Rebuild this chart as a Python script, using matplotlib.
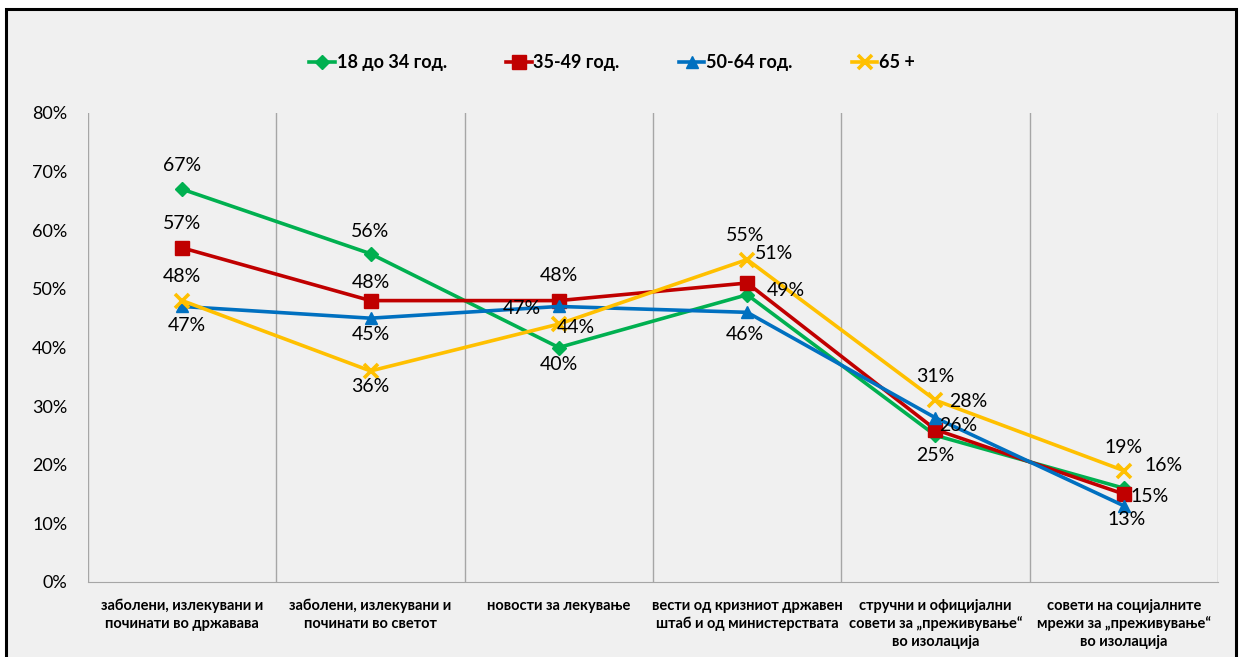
import matplotlib.pyplot as plt
from matplotlib.patches import Rectangle

# data
categories = [
    "заболени, излекувани и\nпочинати во државава",
    "заболени, излекувани и\nпочинати во светот",
    "новости за лекување",
    "вести од кризниот државен\nштаб и од министерствата",
    "стручни и официјални\nсовети за „преживување“\nво изолација",
    "совети на социјалните\nмрежи за „преживување“\nво изолација",
]
series_names = ["18 до 34 год.", "35-49 год.", "50-64 год.", "65 +"]
age_18_34 = [67, 56, 40, 49, 25, 16]
age_35_49 = [57, 48, 48, 51, 26, 15]
age_50_64 = [47, 45, 47, 46, 28, 13]
age_65 = [48, 36, 44, 55, 31, 19]
yticks = [0, 10, 20, 30, 40, 50, 60, 70, 80]

# styling
colors = ["#00B050", "#C00000", "#0070C0", "#FFC000"]
markers = ["D", "s", "^", "x"]
msizes = [7, 10, 9, 10]
# label offsets in pixels (dx, dy) per series, per category
offsets = [
    [(0, 24), (0, 22), (0, -17), (39, 4), (0, -20), (40, 23)],
    [(0, 24), (0, 18), (0, 25), (27, 30), (23, 4), (26, -2)],
    [(5, -19), (0, -16), (-37, -2), (-2, -22), (33, 16), (3, -14)],
    [(0, 24), (0, -16), (17, -3), (-2, 24), (0, 24), (0, 23)],
]

plt.rcParams['font.family'] = ['Lato', 'DejaVu Sans']

fig = plt.figure(figsize=(12.39, 6.57), dpi=100, facecolor="white")
fig.patches.append(Rectangle((6 / 1239, -0.05), 1230 / 1239, 1.05 - 9 / 657,
                             transform=fig.transFigure, facecolor="#F0F0F0",
                             edgecolor="black", linewidth=2.2, zorder=-10))

ax = fig.add_axes([88 / 1239, 1 - 582 / 657, 1130 / 1239, 469 / 657])
ax.set_facecolor("none")

x = list(range(len(categories)))
all_series = [age_18_34, age_35_49, age_50_64, age_65]
for i, vals in enumerate(all_series):
    ax.plot(x, vals, color=colors[i], linewidth=2.6, marker=markers[i],
            markersize=msizes[i], markeredgewidth=2.6 if markers[i] == "x" else 1,
            markeredgecolor=colors[i], label=series_names[i], zorder=3 + i)
    for j, v in enumerate(vals):
        ax.annotate(f"{v}%", (x[j], v), xytext=offsets[i][j],
                    textcoords="offset pixels", ha="center", va="center",
                    fontsize=14, color="black", zorder=10)

ax.set_xlim(-0.5, len(categories) - 0.5)
ax.set_ylim(0, 80)
ax.set_yticks(yticks)
ax.set_yticklabels([f"{t}%" for t in yticks], fontsize=13)
ax.set_xticks(x)
ax.set_xticklabels(categories, fontsize=10.5, fontweight="bold", linespacing=1.32)
ax.set_xticks([k + 0.5 for k in range(-1, len(categories))], minor=True)
ax.grid(which="minor", axis="x", color="#A6A6A6", linewidth=1)
ax.tick_params(axis="both", which="both", length=0)
ax.tick_params(axis="y", pad=15)
ax.tick_params(axis="x", pad=12)

for side in ["top", "left", "right"]:
    ax.spines[side].set_visible(False)
ax.spines["bottom"].set_color("#A6A6A6")

leg = ax.legend(loc="center", bbox_to_anchor=(0.464, 1.107), ncol=4, frameon=False,
                handlelength=1.4, handletextpad=0.1, columnspacing=3.3,
                prop={"weight": "bold", "size": 13})

fig.savefig("out.png", dpi=100, facecolor=fig.get_facecolor())
